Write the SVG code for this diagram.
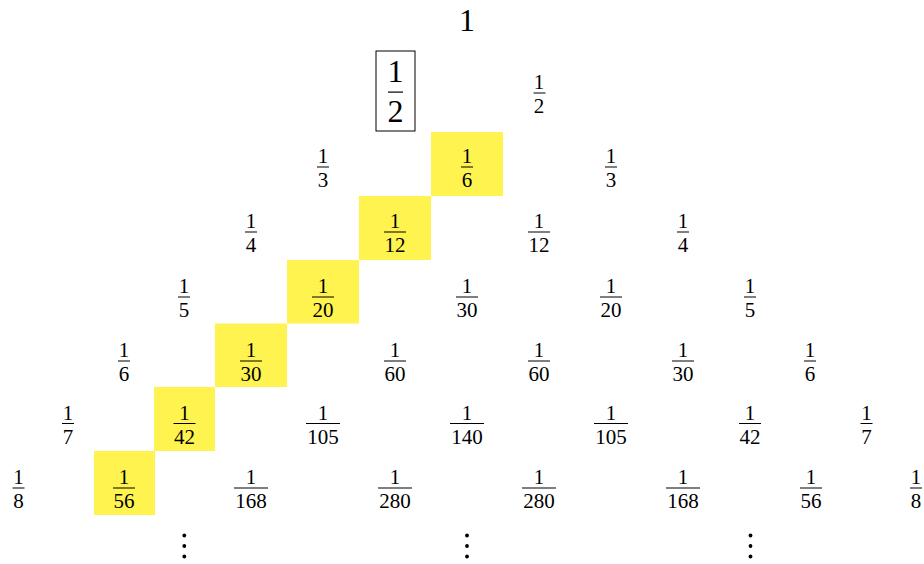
<svg xmlns="http://www.w3.org/2000/svg" width="924" height="564" viewBox="0 0 924 564">
<style>
text{font-family:"Liberation Serif","DejaVu Serif",serif;fill:#000;text-anchor:middle}
.s{font-size:21px}
.b{font-size:32px}
.bar{fill:#000}
.hl{fill:#fff34f}
.dot{fill:#000}
</style>
<rect width="924" height="564" fill="#fff"/>
<g id="highlights">
<rect class="hl" x="431" y="132" width="72" height="64"/>
<rect class="hl" x="359" y="196" width="72" height="64"/>
<rect class="hl" x="287" y="260" width="72" height="63.5"/>
<rect class="hl" x="215" y="323.5" width="72" height="63.5"/>
<rect class="hl" x="154" y="387" width="61" height="64"/>
<rect class="hl" x="94" y="451" width="61" height="64"/>
</g>
<g id="connectors"/>
<g id="r0"><text class="b" x="467" y="31">1</text></g>
<g id="r1a"><rect x="376" y="51" width="39" height="80" fill="none" stroke="#000" stroke-width="1"/><text class="b" x="395.5" y="82">1</text><rect class="bar" x="388" y="91.5" width="15" height="1.2"/><text class="b" x="395.5" y="122">2</text></g>
<g id="r1b"><text class="s" x="539" y="89">1</text><rect class="bar" x="533.5" y="92.5" width="12" height="1"/><text class="s" x="539" y="113">2</text></g>

<g id="r2a"><text class="s" x="323" y="163">1</text><rect class="bar" x="317" y="166.5" width="12" height="1"/><text class="s" x="323" y="187">3</text></g>
<g id="r2b"><text class="s" x="467" y="163">1</text><rect class="bar" x="461" y="166.5" width="12" height="1"/><text class="s" x="467" y="187">6</text></g>
<g id="r2c"><text class="s" x="611" y="163">1</text><rect class="bar" x="605" y="166.5" width="12" height="1"/><text class="s" x="611" y="187">3</text></g>

<g id="r3a"><text class="s" x="251" y="228">1</text><rect class="bar" x="245" y="231.5" width="12" height="1"/><text class="s" x="251" y="252">4</text></g>
<g id="r3b"><text class="s" x="395" y="228">1</text><rect class="bar" x="384" y="231.5" width="22" height="1"/><text class="s" x="395" y="252">12</text></g>
<g id="r3c"><text class="s" x="539" y="228">1</text><rect class="bar" x="528" y="231.5" width="22" height="1"/><text class="s" x="539" y="252">12</text></g>
<g id="r3d"><text class="s" x="683" y="228">1</text><rect class="bar" x="677" y="231.5" width="12" height="1"/><text class="s" x="683" y="252">4</text></g>

<g id="r4a"><text class="s" x="184" y="293">1</text><rect class="bar" x="178" y="296.5" width="12" height="1"/><text class="s" x="184" y="317">5</text></g>
<g id="r4b"><text class="s" x="323" y="293">1</text><rect class="bar" x="312" y="296.5" width="22" height="1"/><text class="s" x="323" y="317">20</text></g>
<g id="r4c"><text class="s" x="467" y="293">1</text><rect class="bar" x="456" y="296.5" width="22" height="1"/><text class="s" x="467" y="317">30</text></g>
<g id="r4d"><text class="s" x="611" y="293">1</text><rect class="bar" x="600" y="296.5" width="22" height="1"/><text class="s" x="611" y="317">20</text></g>
<g id="r4e"><text class="s" x="750" y="293">1</text><rect class="bar" x="744" y="296.5" width="12" height="1"/><text class="s" x="750" y="317">5</text></g>

<g id="r5a"><text class="s" x="124" y="357">1</text><rect class="bar" x="118" y="360.5" width="12" height="1"/><text class="s" x="124" y="381">6</text></g>
<g id="r5b"><text class="s" x="251" y="357">1</text><rect class="bar" x="240" y="360.5" width="22" height="1"/><text class="s" x="251" y="381">30</text></g>
<g id="r5c"><text class="s" x="395" y="357">1</text><rect class="bar" x="384" y="360.5" width="22" height="1"/><text class="s" x="395" y="381">60</text></g>
<g id="r5d"><text class="s" x="539" y="357">1</text><rect class="bar" x="528" y="360.5" width="22" height="1"/><text class="s" x="539" y="381">60</text></g>
<g id="r5e"><text class="s" x="683" y="357">1</text><rect class="bar" x="672" y="360.5" width="22" height="1"/><text class="s" x="683" y="381">30</text></g>
<g id="r5f"><text class="s" x="810" y="357">1</text><rect class="bar" x="804" y="360.5" width="12" height="1"/><text class="s" x="810" y="381">6</text></g>

<g id="r6a"><text class="s" x="68" y="420">1</text><rect class="bar" x="62" y="423" width="12" height="1"/><text class="s" x="68" y="444">7</text></g>
<g id="r6b"><text class="s" x="184.5" y="420">1</text><rect class="bar" x="173.5" y="423" width="22" height="1"/><text class="s" x="184.5" y="444">42</text></g>
<g id="r6c"><text class="s" x="323" y="420">1</text><rect class="bar" x="306" y="423" width="34" height="1"/><text class="s" x="323" y="444">105</text></g>
<g id="r6d"><text class="s" x="467" y="420">1</text><rect class="bar" x="450" y="423" width="34" height="1"/><text class="s" x="467" y="444">140</text></g>
<g id="r6e"><text class="s" x="611" y="420">1</text><rect class="bar" x="594" y="423" width="34" height="1"/><text class="s" x="611" y="444">105</text></g>
<g id="r6f"><text class="s" x="750" y="420">1</text><rect class="bar" x="739" y="423" width="22" height="1"/><text class="s" x="750" y="444">42</text></g>
<g id="r6g"><text class="s" x="866.5" y="420">1</text><rect class="bar" x="860.5" y="423" width="12" height="1"/><text class="s" x="866.5" y="444">7</text></g>

<g id="r7a"><text class="s" x="18.5" y="484">1</text><rect class="bar" x="12.5" y="487.5" width="12" height="1"/><text class="s" x="18.5" y="508">8</text></g>
<g id="r7b"><text class="s" x="124" y="484">1</text><rect class="bar" x="113" y="487.5" width="22" height="1"/><text class="s" x="124" y="508">56</text></g>
<g id="r7c"><text class="s" x="251" y="484">1</text><rect class="bar" x="234" y="487.5" width="34" height="1"/><text class="s" x="251" y="508">168</text></g>
<g id="r7d"><text class="s" x="395" y="484">1</text><rect class="bar" x="378" y="487.5" width="34" height="1"/><text class="s" x="395" y="508">280</text></g>
<g id="r7e"><text class="s" x="539" y="484">1</text><rect class="bar" x="522" y="487.5" width="34" height="1"/><text class="s" x="539" y="508">280</text></g>
<g id="r7f"><text class="s" x="683" y="484">1</text><rect class="bar" x="666" y="487.5" width="34" height="1"/><text class="s" x="683" y="508">168</text></g>
<g id="r7g"><text class="s" x="811" y="484">1</text><rect class="bar" x="800" y="487.5" width="22" height="1"/><text class="s" x="811" y="508">56</text></g>
<g id="r7h"><text class="s" x="916" y="484">1</text><rect class="bar" x="910" y="487.5" width="12" height="1"/><text class="s" x="916" y="508">8</text></g>

<g id="vdots1"><circle class="dot" cx="184.3" cy="535.5" r="1.9"/><circle class="dot" cx="184.3" cy="546" r="1.9"/><circle class="dot" cx="184.3" cy="556.5" r="1.9"/></g>
<g id="vdots2"><circle class="dot" cx="467" cy="535.5" r="1.9"/><circle class="dot" cx="467" cy="546" r="1.9"/><circle class="dot" cx="467" cy="556.5" r="1.9"/></g>
<g id="vdots3"><circle class="dot" cx="750.5" cy="535.5" r="1.9"/><circle class="dot" cx="750.5" cy="546" r="1.9"/><circle class="dot" cx="750.5" cy="556.5" r="1.9"/></g>
</svg>
